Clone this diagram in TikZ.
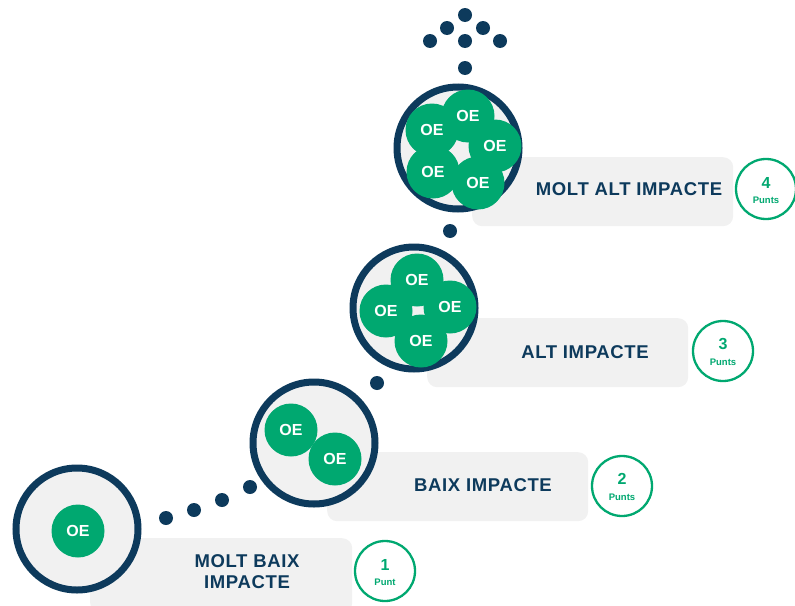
\documentclass[tikz,border=0pt]{standalone}
\usepackage{fontspec}
\setmainfont{Liberation Sans}
\newfontfamily\lblfont[LetterSpace=3.5]{Liberation Sans}
\definecolor{navy}{HTML}{0D3A5C}
\definecolor{oegreen}{HTML}{00A870}
\definecolor{boxgray}{HTML}{F1F1F1}
\tikzset{
  box/.style={fill=boxgray, rounded corners=10pt, inner sep=0pt, anchor=north west},
  ring/.style={circle, draw=navy, line width=7pt, fill=boxgray, minimum size=122pt, inner sep=0pt},
  oe/.style={circle, fill=oegreen, minimum size=53pt, inner sep=0pt, text=white, font=\bfseries\fontsize{16}{16}\selectfont},
  lbl/.style={text=navy, font=\lblfont\bfseries\fontsize{18.5}{21}\selectfont, align=center},
  badge/.style={circle, draw=oegreen, line width=2.3pt, fill=white, minimum size=60pt, inner sep=0pt},
  num/.style={text=oegreen, font=\bfseries\fontsize{16}{16}\selectfont, inner sep=0pt},
  pts/.style={text=oegreen, font=\bfseries\fontsize{9.5}{10}\selectfont, inner sep=0pt},
  dot/.style={fill=navy}
}
\begin{document}
\begin{tikzpicture}[x=1pt,y=-1pt]
\useasboundingbox (0,0) rectangle (795,605);
% boxes
\node[box, minimum width=262pt, minimum height=75pt] (box1) at (90,538) {};
\node[box, minimum width=261pt, minimum height=69pt] (box2) at (327,452) {};
\node[box, minimum width=261pt, minimum height=69pt] (box3) at (427,318) {};
\node[box, minimum width=261pt, minimum height=69pt] (box4) at (472,157) {};
% dots
\foreach \p in {(166,518),(194,510),(222,500),(250,487),(377,383),(450,231),(465,68),(430,41),(465,41),(500,41),(447,28),(483,28),(465,15)}
  \fill[dot] \p circle[radius=7pt];
% rings
\node[ring] (r1) at (77,529) {};
\node[ring] (r2) at (314,443) {};
\node[ring] (r3) at (414,308) {};
\node[ring] (r4) at (458,148) {};
% green circles
\node[oe] (o1) at (78,531) {OE};
\node[oe] (o2a) at (291,430) {OE};
\node[oe] (o2b) at (335,459) {OE};
\node[oe] (o3a) at (417,280) {OE};
\node[oe] (o3b) at (386,311) {OE};
\node[oe] (o3c) at (450,307) {OE};
\node[oe] (o3d) at (421,341) {OE};
\node[oe] (o4a) at (468,116) {OE};
\node[oe] (o4b) at (432,130) {OE};
\node[oe] (o4c) at (495,146) {OE};
\node[oe] (o4d) at (433,172) {OE};
\node[oe] (o4e) at (478,183) {OE};
% labels
\node[lbl] (t1) at (247,572) {MOLT BAIX\\IMPACTE};
\node[lbl] (t2) at (483,485) {BAIX IMPACTE};
\node[lbl] (t3) at (585,352) {ALT IMPACTE};
\node[lbl] (t4) at (629,189) {MOLT ALT IMPACTE};
% badges
\node[badge] (c1) at (385,571) {};
\node[num] at (385,565) {1};
\node[pts] at (385,582) {Punt};
\node[badge] (c2) at (622,486) {};
\node[num] at (622,479) {2};
\node[pts] at (622,497) {Punts};
\node[badge] (c3) at (723,351) {};
\node[num] at (723,344) {3};
\node[pts] at (723,362) {Punts};
\node[badge] (c4) at (766,189) {};
\node[num] at (766,183) {4};
\node[pts] at (766,200) {Punts};
\end{tikzpicture}
\end{document}
